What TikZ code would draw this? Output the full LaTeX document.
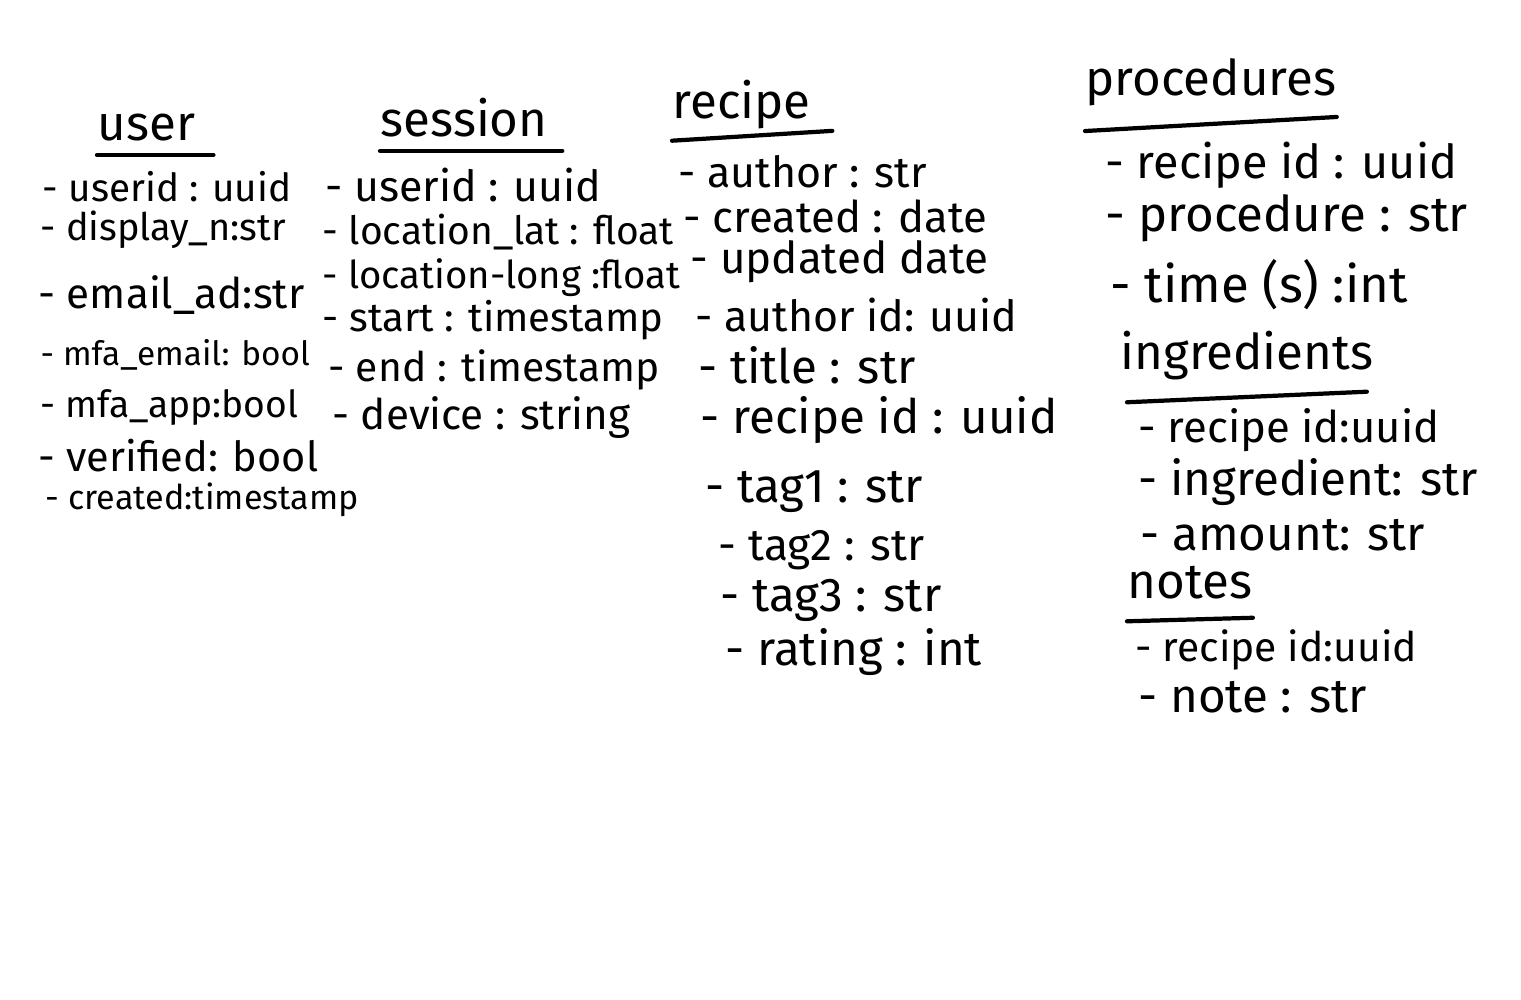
\documentclass[tikz,border=0pt]{standalone}
\usepackage{fontspec}
\setmainfont{Fira Sans}
\usepackage{tikz}
\usetikzlibrary{positioning,calc}

\tikzset{
    field/.style={anchor=west, inner sep=0pt, font=\fontsize{#1}{#1}\selectfont},
    field/.default=10,
    tbl/.style={anchor=west, inner sep=0pt, font=\fontsize{14}{16}\selectfont},
    uline/.style={line width=1.2pt, line cap=round}
}

\begin{document}
\begin{tikzpicture}[x=0.01cm, y=-0.01cm]
    \useasboundingbox[fill=white] (0,0) rectangle (1521,999);

    % table names
    \node[tbl] (user) at (97,128) {user};
    \node[tbl] (session) at (380,118) {session};
    \node[tbl] (recipe) at (672,105) {recipe};
    \node[tbl] (proc) at (1085,82) {procedures};
    \node[tbl] (ingr) at (1120,356) {ingredients};
    \node[tbl] (notes) at (1127,583) {notes};

    % underlines
    \draw[uline] ([yshift=-3.6pt]user.south west) -- ([xshift=5pt,yshift=-3.6pt]user.south east);
    \draw[uline] ([yshift=-3.6pt]session.south west) -- ([xshift=4pt,yshift=-3.6pt]session.south east);
    \draw[uline] ([yshift=-3pt]recipe.south west) -- ([xshift=6pt,yshift=-0.2pt]recipe.south east);
    \draw[uline] ([yshift=-7pt]proc.south west) -- ([yshift=-3pt]proc.south east);
    \draw[uline] ([xshift=2pt,yshift=-6pt]ingr.south west) -- ([xshift=-2pt,yshift=-3pt]ingr.south east);
    \draw[uline] ([yshift=-6pt]notes.south west) -- ([yshift=-5pt]notes.south east);

    % user
    \foreach \x/\y/\s/\t [count=\i] in {42/187/11/- userid : uuid, 40/230/10.8/- display\_n:str,
        38/295/12/- email\_ad:str, 40/355/9.5/- mfa\_email: bool, 40/407/10.6/- mfa\_app:bool,
        38/456/11.8/- verified: bool, 45/500/9.7/- created:timestamp}
        \node[field=\s] (u\i) at (\x,\y) {\t};

    % session
    \foreach \x/\y/\s/\t [count=\i] in {325/185/12.2/- userid : uuid, 322/232/11.1/- location\_lat : float,
        322/278/10.9/- location-long :float, 322/320/11.4/- start : timestamp,
        328/370/11.6/- end : timestamp, 332/418/12/- device : string}
        \node[field=\s] (s\i) at (\x,\y) {\t};

    % recipe
    \foreach \x/\y/\s/\t [count=\i] in {678/172/12.2/- author : str, 683/216/12.4/- created : date,
        690/262/12.5/- updated date, 695/315/12.2/- author id: uuid, 698/365/13.5/- title : str,
        700/420/13.5/- recipe id : uuid, 705/492/13.5/- tag1 : str, 718/550/12.6/- tag2 : str,
        720/600/13.5/- tag3 : str, 725/652/13.5/- rating : int}
        \node[field=\s] (r\i) at (\x,\y) {\t};

    % procedures
    \foreach \x/\y/\s/\t [count=\i] in {1105/165/13.3/- recipe id : uuid, 1105/218/14/- procedure : str,
        1110/285/14.5/- time (s) :int}
        \node[field=\s] (p\i) at (\x,\y) {\t};

    % ingredients
    \foreach \x/\y/\s/\t [count=\i] in {1138/430/12.4/- recipe id:uuid, 1138/482/13.5/- ingredient: str,
        1140/535/13.5/- amount: str}
        \node[field=\s] (g\i) at (\x,\y) {\t};

    % notes
    \foreach \x/\y/\s/\t [count=\i] in {1135/650/11.6/- recipe id:uuid, 1138/697/13.5/- note : str}
        \node[field=\s] (n\i) at (\x,\y) {\t};
\end{tikzpicture}
\end{document}
